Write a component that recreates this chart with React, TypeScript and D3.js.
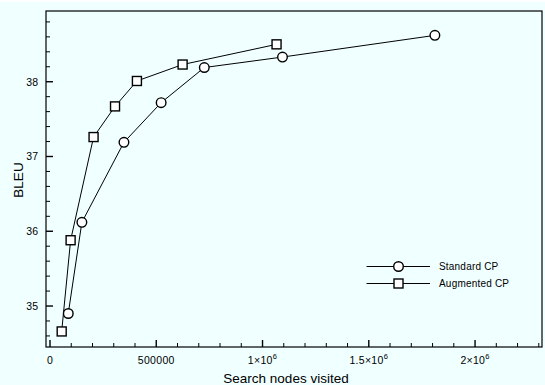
import * as d3 from "d3";
import React from "react";

const width = 545;
const height = 385;
const frame = { left: 46, top: 11, right: 542, bottom: 347 };

// Standard CP (circles)
const standardNodes = [86000, 150000, 348000, 523000, 726000, 1094000, 1811000];
const standardBleu = [34.9, 36.12, 37.19, 37.72, 38.19, 38.33, 38.62];

// Augmented CP (squares)
const augmentedNodes = [55000, 97000, 205000, 306000, 409000, 624000, 1066000];
const augmentedBleu = [34.66, 35.88, 37.26, 37.67, 38.01, 38.23, 38.5];

const xMajor = [0, 500000, 1000000, 1500000, 2000000];
const xLabels = [
  { base: "0", exp: "" },
  { base: "500000", exp: "" },
  { base: "1×10", exp: "6" },
  { base: "1.5×10", exp: "6" },
  { base: "2×10", exp: "6" },
];
const yMajor = [35, 36, 37, 38];

const font = "'Liberation Sans', Arial, Helvetica, sans-serif";

const xScale = d3.scaleLinear().domain([-18800, 2315000]).range([frame.left, frame.right]);
const yScale = d3.scaleLinear().domain([34.452, 38.946]).range([frame.bottom, frame.top]);

const xMinor = d3.range(0, 2300001, 100000).filter((v) => v % 500000 !== 0);
const yMinor = d3.range(34.6, 38.95, 0.2).filter((v) => Math.abs(v - Math.round(v)) > 0.01);

const line = d3
  .line<number[]>()
  .x((d) => xScale(d[0]))
  .y((d) => yScale(d[1]));

const standard = standardNodes.map((x, i) => [x, standardBleu[i]]);
const augmented = augmentedNodes.map((x, i) => [x, augmentedBleu[i]]);

function Circle({ cx, cy }: { cx: number; cy: number }) {
  return <circle cx={cx} cy={cy} r={4.8} fill="#fff" stroke="#000" strokeWidth={1.4} />;
}

function Square({ cx, cy }: { cx: number; cy: number }) {
  return <rect x={cx - 4.5} y={cy - 4.5} width={9} height={9} fill="#fff" stroke="#000" strokeWidth={1.4} />;
}

export default function App() {
  const legendY = [266.5, 283.5];
  return (
    <div>
      <style>{"body{margin:0}"}</style>
      <svg width={width} height={height} style={{ display: "block" }}>
        <rect x={0} y={0} width={width} height={height} fill="#f0ffff" />
        <rect x={0} y={0} width={width} height={2} fill="#ffffff" />

        {/* frame */}
        <rect
          x={frame.left}
          y={frame.top}
          width={frame.right - frame.left}
          height={frame.bottom - frame.top}
          fill="none"
          stroke="#000"
          strokeWidth={1.2}
        />

        {/* x ticks */}
        {xMajor.map((v) => (
          <line key={"xM" + v} x1={xScale(v)} x2={xScale(v)} y1={frame.bottom} y2={frame.bottom - 7} stroke="#000" strokeWidth={1.4} />
        ))}
        {xMinor.map((v) => (
          <line key={"xm" + v} x1={xScale(v)} x2={xScale(v)} y1={frame.bottom} y2={frame.bottom - 4} stroke="#000" strokeWidth={1} />
        ))}
        {xMajor.map((v, i) => (
          <text key={"xl" + v} x={xScale(v)} y={364} textAnchor="middle" fontFamily={font} fontSize={10.5} letterSpacing={0.3} fill="#000">
            {xLabels[i].base}
            {xLabels[i].exp && (
              <tspan fontSize={7.5} dy={-5}>
                {xLabels[i].exp}
              </tspan>
            )}
          </text>
        ))}

        {/* y ticks */}
        {yMajor.map((v) => (
          <line key={"yM" + v} x1={frame.left} x2={frame.left + 7} y1={yScale(v)} y2={yScale(v)} stroke="#000" strokeWidth={1.4} />
        ))}
        {yMinor.map((v) => (
          <line key={"ym" + v} x1={frame.left} x2={frame.left + 4} y1={yScale(v)} y2={yScale(v)} stroke="#000" strokeWidth={1} />
        ))}
        {yMajor.map((v) => (
          <text key={"yl" + v} x={38.5} y={yScale(v) + 4} textAnchor="end" fontFamily={font} fontSize={10.5} letterSpacing={0.3} fill="#000">
            {v}
          </text>
        ))}

        {/* axis titles */}
        <text x={286} y={383} textAnchor="middle" fontFamily={font} fontSize={13.5} fill="#000">
          Search nodes visited
        </text>
        <text
          transform={`translate(23,180) rotate(-90)`}
          textAnchor="middle"
          fontFamily={font}
          fontSize={13.5}
          fill="#000"
        >
          BLEU
        </text>

        {/* series */}
        <path d={line(standard) || ""} fill="none" stroke="#000" strokeWidth={1} />
        <path d={line(augmented) || ""} fill="none" stroke="#000" strokeWidth={1} />
        {standard.map((d, i) => (
          <Circle key={"c" + i} cx={xScale(d[0])} cy={yScale(d[1])} />
        ))}
        {augmented.map((d, i) => (
          <Square key={"s" + i} cx={xScale(d[0])} cy={yScale(d[1])} />
        ))}

        {/* legend */}
        <line x1={366.5} x2={430} y1={legendY[0]} y2={legendY[0]} stroke="#000" strokeWidth={1} />
        <Circle cx={398.5} cy={legendY[0]} />
        <text x={439} y={legendY[0] + 3.5} fontFamily={font} fontSize={10} letterSpacing={0.2} fill="#000">
          Standard CP
        </text>
        <line x1={366.5} x2={430} y1={legendY[1]} y2={legendY[1]} stroke="#000" strokeWidth={1} />
        <Square cx={398.5} cy={legendY[1]} />
        <text x={439} y={legendY[1] + 3.5} fontFamily={font} fontSize={10} letterSpacing={0.2} fill="#000">
          Augmented CP
        </text>
      </svg>
    </div>
  );
}
